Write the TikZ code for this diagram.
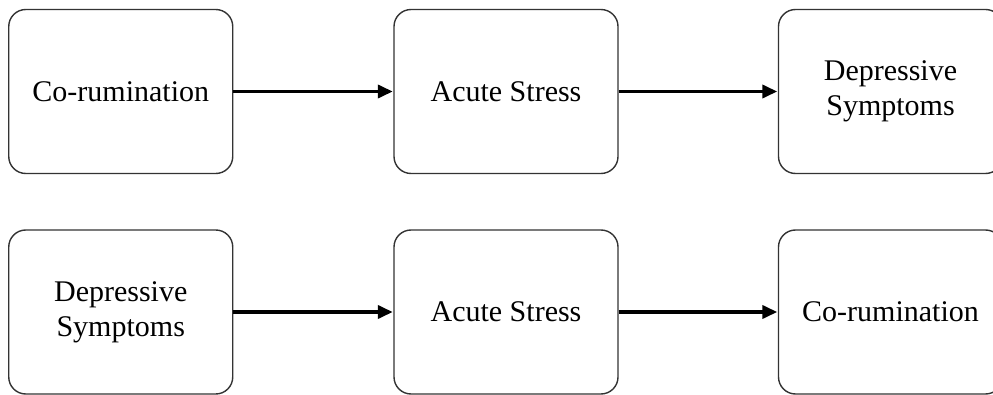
\documentclass[tikz,border=0pt]{standalone}
\usepackage{fontspec}
\setmainfont{Liberation Serif}
\usetikzlibrary{arrows.meta}
\begin{document}
\begin{tikzpicture}[x=1pt,y=1pt,
  box/.style={draw=black!80, line width=1.4pt, rounded corners=17pt,
    minimum width=224pt, minimum height=164pt, inner sep=0pt,
    align=center, font=\fontsize{30}{35}\selectfont},
  link/.style={line width=3.6pt, -{Triangle[length=15pt,width=13pt]}, shorten >=0.5pt}]
\path[use as bounding box, clip] (0,0) rectangle (993,394);
% top row
\node[box] (a1) at (120.75,302.5) {Co-rumination};
\node[box] (b1) at (506,302.5) {Acute Stress};
\node[box] (c1) at (890.5,302.5) {Depressive\\Symptoms};
% bottom row
\node[box] (a2) at (120.75,82) {Depressive\\Symptoms};
\node[box] (b2) at (506,82) {Acute Stress};
\node[box] (c2) at (890.5,82) {Co-rumination};
\draw[link] (a1) -- (b1);
\draw[link] (b1) -- (c1);
\draw[link] (a2) -- (b2);
\draw[link] (b2) -- (c2);
\end{tikzpicture}
\end{document}
